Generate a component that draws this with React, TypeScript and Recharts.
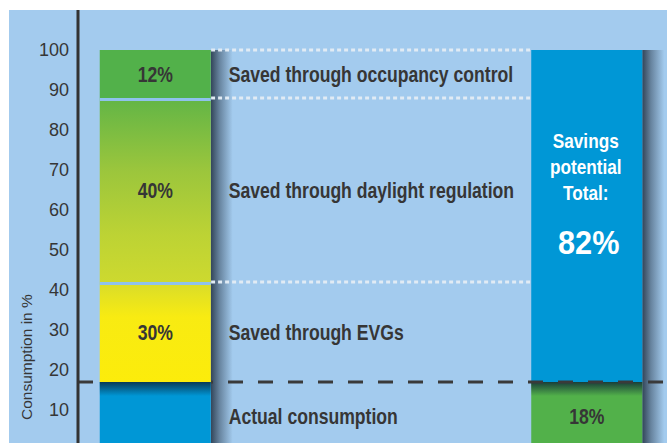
import { BarChart, Bar, XAxis, YAxis, ReferenceLine, LabelList } from 'recharts';

const categories = ['Current', 'Potential'];

// left column, bottom to top (heights as drawn in the picture)
const actualConsumption = [17, 0];
const savedEvg = [25, 0];
const savedDaylight = [46, 0];
const savedOccupancy = [12, 0];

// right column
const remainingConsumption = [0, 17];
const savingsPotential = [0, 83];

const segmentNames = [
  'Actual consumption',
  'Saved through EVGs',
  'Saved through daylight regulation',
  'Saved through occupancy control',
];
const segmentPercents = ['', '30%', '40%', '12%'];
const remainingPercent = '18%';
const savingsLines = ['Savings', 'potential', 'Total:'];
const savingsTotal = '82%';

const yTicks = [10, 20, 30, 40, 50, 60, 70, 80, 90, 100];

const data = categories.map((name, i) => ({
  name,
  pos: i,
  actual: actualConsumption[i],
  evg: savedEvg[i],
  daylight: savedDaylight[i],
  occupancy: savedOccupancy[i],
  remaining: remainingConsumption[i],
  savings: savingsPotential[i],
}));

const FONT = "'Liberation Sans', Arial, Helvetica, sans-serif";
const TEXT = '#363636';
const BAR_SIZE = 111;
// x axis: bar centres sit at 0 and 1, 431.5px apart
const UNIT = 431.5;
const BAR_EDGE = 55.6 / UNIT;
const AXIS_X = -77.5 / UNIT;
const RIGHT_X = 1 + 80 / UNIT;

const leftTop = actualConsumption[0] + savedEvg[0] + savedDaylight[0] + savedOccupancy[0];
const dottedLevels = [leftTop, leftTop - savedOccupancy[0], actualConsumption[0] + savedEvg[0]];

// narrow bold text, squeezed horizontally like the condensed face of the original
function NarrowText({ x, y, children, size, sx = 0.8, anchor = 'start', fill = TEXT, weight = 'bold' }: any) {
  return (
    <g transform={`translate(${x} ${y}) scale(${sx} 1)`}>
      <text x={0} y={0} textAnchor={anchor} dominantBaseline="central" fill={fill}
        fontFamily={FONT} fontWeight={weight} fontSize={size}>
        {children}
      </text>
    </g>
  );
}

function Segment(props: any) {
  const { x, y, width, height, fill, gap, innerShadow } = props;
  if (!height || height <= 0) return null;
  return (
    <g>
      <rect x={x + width} y={y} width={22} height={height} fill="url(#shadowRight)" />
      <rect x={x} y={y} width={width} height={height} fill={fill} />
      {innerShadow && <rect x={x} y={y} width={width} height={14} fill="url(#shadowTop)" />}
      {gap && <rect x={x} y={y} width={width} height={3} fill="#8fc2ec" />}
    </g>
  );
}

const getBox = (p: any) => (p.viewBox && p.viewBox.width != null ? p.viewBox : p);

const renderLeftLabel = (seg: number) => (p: any) => {
  const b = getBox(p);
  if (p.index !== 0 || !b || !b.height) return null;
  const cx = b.x + b.width / 2;
  const cy = b.y + b.height / 2;
  return (
    <g>
      {segmentPercents[seg] && (
        <NarrowText x={cx} y={cy} size={22} anchor="middle">{segmentPercents[seg]}</NarrowText>
      )}
      <NarrowText x={b.x + b.width + 18} y={cy} size={22} sx={0.8}>{segmentNames[seg]}</NarrowText>
    </g>
  );
};

const renderRemainingLabel = (p: any) => {
  const b = getBox(p);
  if (p.index !== 1 || !b || !b.height) return null;
  return (
    <NarrowText x={b.x + b.width / 2} y={b.y + b.height / 2} size={22} anchor="middle">
      {remainingPercent}
    </NarrowText>
  );
};

const renderSavingsLabel = (p: any) => {
  const b = getBox(p);
  if (p.index !== 1 || !b || !b.height) return null;
  const cx = b.x + b.width / 2;
  const cy = b.y + b.height / 2;
  return (
    <g>
      {savingsLines.map((line, i) => (
        <NarrowText key={line} x={cx - 1} y={cy - 75 + i * 26} size={21} sx={0.82} anchor="middle" fill="#fff">
          {line}
        </NarrowText>
      ))}
      <NarrowText x={cx + 2} y={cy + 27} size={33} sx={0.93} anchor="middle" fill="#fff">
        {savingsTotal}
      </NarrowText>
    </g>
  );
};

const renderAxisLabel = (p: any) => {
  const vb = p.viewBox;
  const x = vb.x + 32;
  const y = vb.y + 410;
  return (
    <text x={x} y={y} transform={`rotate(-90 ${x} ${y})`} fill={TEXT} fontFamily={FONT} fontSize={15.5}>
      Consumption in %
    </text>
  );
};

export default function App() {
  return (
    <div style={{ position: 'absolute', left: 0, top: 0, width: 667, height: 443, overflow: 'hidden', background: '#fff' }}>
      <div style={{ position: 'absolute', left: 9, top: 10, right: 0, bottom: 0, background: '#a3cbee' }} />
      <div style={{ position: 'absolute', left: 0, top: 0 }}>
        <BarChart width={667} height={450} data={data} margin={{ top: 10, right: 0, bottom: 0, left: 0 }}>
          <defs>
            <linearGradient id="daylightGrad" x1="0" y1="0" x2="0" y2="1">
              <stop offset="0%" stopColor="#62b546" />
              <stop offset="40%" stopColor="#9cc63c" />
              <stop offset="75%" stopColor="#bdd334" />
              <stop offset="100%" stopColor="#cdd92f" />
            </linearGradient>
            <linearGradient id="evgGrad" x1="0" y1="0" x2="0" y2="1">
              <stop offset="0%" stopColor="#d8dc2a" />
              <stop offset="35%" stopColor="#f8eb12" />
              <stop offset="100%" stopColor="#fcec0b" />
            </linearGradient>
            <linearGradient id="shadowRight" x1="0" y1="0" x2="1" y2="0">
              <stop offset="0%" stopColor="#1e2d3e" stopOpacity={0.85} />
              <stop offset="40%" stopColor="#1e2d3e" stopOpacity={0.45} />
              <stop offset="100%" stopColor="#1e2d3e" stopOpacity={0} />
            </linearGradient>
            <linearGradient id="shadowTop" x1="0" y1="0" x2="0" y2="1">
              <stop offset="0%" stopColor="#0b2236" stopOpacity={0.8} />
              <stop offset="100%" stopColor="#0b2236" stopOpacity={0} />
            </linearGradient>
          </defs>
          <XAxis type="number" dataKey="pos" domain={[0, 1]} ticks={[0, 1]} padding={{ left: 77.5, right: 80 }} hide />
          <YAxis
            type="number"
            domain={[0, 110]}
            ticks={yTicks}
            width={78}
            axisLine={{ stroke: '#333', strokeWidth: 3 }}
            tickLine={false}
            tickSize={0}
            tickMargin={9}
            tick={{ fill: TEXT, fontSize: 18, fontFamily: FONT }}
            label={{ content: renderAxisLabel }}
          />
          {dottedLevels.map((lvl) => (
            <ReferenceLine
              key={lvl}
              segment={[{ x: BAR_EDGE, y: lvl }, { x: 1 - BAR_EDGE, y: lvl }]}
              stroke="#e1ebf4"
              strokeWidth={3}
              strokeDasharray="4 3"
            />
          ))}
          <Bar dataKey="actual" stackId="a" barSize={BAR_SIZE} fill="#0097d6" isAnimationActive={false}
            shape={(p: any) => <Segment {...p} innerShadow />}>
            <LabelList dataKey="actual" content={renderLeftLabel(0)} />
          </Bar>
          <Bar dataKey="evg" stackId="a" barSize={BAR_SIZE} fill="url(#evgGrad)" isAnimationActive={false}
            shape={(p: any) => <Segment {...p} gap />}>
            <LabelList dataKey="evg" content={renderLeftLabel(1)} />
          </Bar>
          <Bar dataKey="daylight" stackId="a" barSize={BAR_SIZE} fill="url(#daylightGrad)" isAnimationActive={false}
            shape={(p: any) => <Segment {...p} gap />}>
            <LabelList dataKey="daylight" content={renderLeftLabel(2)} />
          </Bar>
          <Bar dataKey="occupancy" stackId="a" barSize={BAR_SIZE} fill="#52b14a" isAnimationActive={false}
            shape={(p: any) => <Segment {...p} />}>
            <LabelList dataKey="occupancy" content={renderLeftLabel(3)} />
          </Bar>
          <Bar dataKey="remaining" stackId="a" barSize={BAR_SIZE} fill="#52b14a" isAnimationActive={false}
            shape={(p: any) => <Segment {...p} innerShadow />}>
            <LabelList dataKey="remaining" content={renderRemainingLabel} />
          </Bar>
          <Bar dataKey="savings" stackId="a" barSize={BAR_SIZE} fill="#0097d6" isAnimationActive={false}
            shape={(p: any) => <Segment {...p} />}>
            <LabelList dataKey="savings" content={renderSavingsLabel} />
          </Bar>
          {/* dashed consumption level: left of the first bar, then from its right edge onward */}
          <ReferenceLine
            segment={[{ x: AXIS_X, y: actualConsumption[0] }, { x: -BAR_EDGE, y: actualConsumption[0] }]}
            ifOverflow="visible"
            stroke="#3a3a3a"
            strokeWidth={3}
            strokeDasharray="15 15"
          />
          <ReferenceLine
            segment={[{ x: BAR_EDGE, y: actualConsumption[0] }, { x: RIGHT_X, y: actualConsumption[0] }]}
            ifOverflow="visible"
            stroke="#3a3a3a"
            strokeWidth={3}
            strokeDasharray="15 15"
            strokeDashoffset={(BAR_EDGE - AXIS_X) * UNIT % 30}
          />
        </BarChart>
      </div>
    </div>
  );
}
